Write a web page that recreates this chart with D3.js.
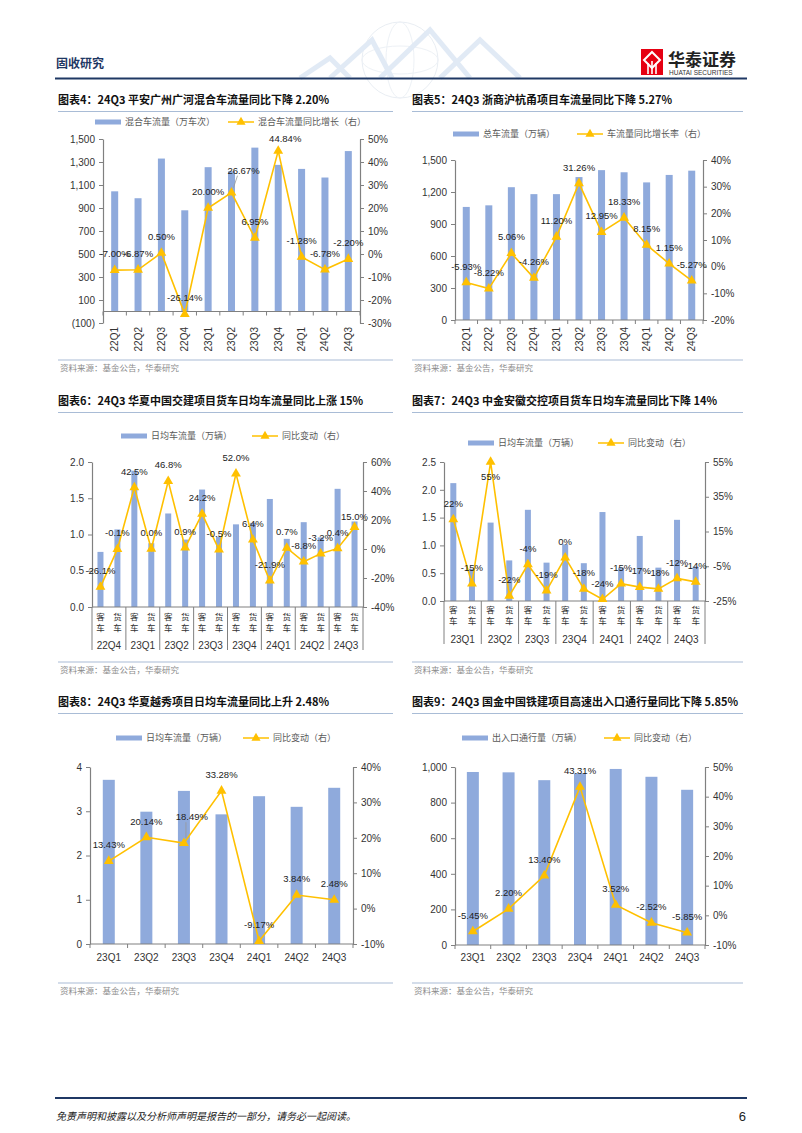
<!DOCTYPE html>
<html><head><meta charset="utf-8">
<script src="https://cdn.jsdelivr.net/npm/d3@7"></script>
<style>
body{margin:0;background:#fff}
svg{display:block;font-family:"Liberation Sans",Arial,sans-serif}
.cn{font-family:"Noto Sans CJK SC",sans-serif}
.title{font-family:"Noto Sans CJK SC",sans-serif;font-weight:700;font-size:11px;fill:#111}
.tick text{font-size:10px;fill:#333}
.lbl{font-size:9.5px;fill:#222}
.leg{font-family:"Noto Sans CJK SC",sans-serif;font-size:9px;fill:#595959}
.src{font-family:"Noto Sans CJK SC",sans-serif;font-size:8.5px;fill:#8c8c8c}
</style></head><body>
<svg id="page" width="802" height="1133"></svg>
<script>
// ---- data ----
const q11 = ["22Q1","22Q2","22Q3","22Q4","23Q1","23Q2","23Q3","23Q4","24Q1","24Q2","24Q3"];
const mixFlow = [1045, 985, 1330, 880, 1255, 1220, 1425, 1275, 1240, 1165, 1395];
const mixYoy = [-7.00, -6.87, 0.50, -26.14, 20.00, 26.67, 6.95, 44.84, -1.28, -6.78, -2.20];

const zsFlow = [1060, 1075, 1245, 1180, 1180, 1340, 1405, 1385, 1290, 1360, 1400];
const zsYoy = [-5.93, -8.22, 5.06, -4.26, 11.20, 31.26, 12.95, 18.33, 8.15, 1.15, -5.27];

const vehTypes = ["客车", "货车"];
const hxGroups = ["22Q4","23Q1","23Q2","23Q3","23Q4","24Q1","24Q2","24Q3"];
const hxFlow = [0.76, 1.07, 1.88, 0.88, 1.29, 0.93, 1.62, 0.97, 1.14, 1.16, 1.49, 0.94, 1.17, 0.96, 1.63, 1.18];
const hxYoy = [-26.1, -0.1, 42.5, 0.0, 46.8, 0.9, 24.2, -0.5, 52.0, 6.4, -21.9, 0.7, -8.8, -3.2, 0.4, 15.0];

const zjGroups = ["23Q1","23Q2","23Q3","23Q4","24Q1","24Q2","24Q3"];
const zjFlow = [2.12, 0.58, 1.41, 0.73, 1.64, 0.69, 1.02, 0.68, 1.60, 0.60, 1.17, 0.60, 1.46, 0.62];
const zjYoy = [22, -15, 55, -22, -4, -19, 0, -18, -24, -15, -17, -18, -12, -14];

const q7 = ["23Q1","23Q2","23Q3","23Q4","24Q1","24Q2","24Q3"];
const yxFlow = [3.71, 2.99, 3.46, 2.93, 3.34, 3.10, 3.53];
const yxYoy = [13.43, 20.14, 18.49, 33.28, -9.17, 3.84, 2.48];

const tjFlow = [972, 970, 926, 965, 989, 945, 872];
const tjYoy = [-5.45, 2.20, 13.40, 43.31, 3.52, -2.52, -5.85];

// ---- page ----
const svg = d3.select("#page");
const BAR = "#8faadc", LINE = "#ffc000", RULE = "#a9bcd6", NAVY = "#1f3864";

// header
const deco = svg.append("g").attr("opacity", 0.3);
deco.append("circle").attr("cx", 400).attr("cy", 60).attr("r", 38).attr("fill", "none").attr("stroke", "#b8c7d9");
deco.append("ellipse").attr("cx", 400).attr("cy", 60).attr("rx", 38).attr("ry", 14).attr("fill", "none").attr("stroke", "#c6d3e2");
deco.append("ellipse").attr("cx", 400).attr("cy", 60).attr("rx", 14).attr("ry", 38).attr("fill", "none").attr("stroke", "#c6d3e2");
[[330,78,372,40,392,78],[380,78,430,30,470,78],[440,78,480,40,520,78],[300,78,330,58,350,78]].forEach(p => {
  deco.append("path").attr("d", `M${p[0]},${p[1]}L${p[2]},${p[3]}L${p[4]},${p[5]}`)
    .attr("fill", "none").attr("stroke", "#9dbbe0").attr("stroke-width", 5);
});
svg.append("text").attr("class", "cn").attr("x", 56).attr("y", 68)
  .attr("font-size", 12).attr("font-weight", 700).attr("fill", NAVY).text("固收研究");
svg.append("line").attr("x1", 55).attr("x2", 747).attr("y1", 78.5).attr("y2", 78.5)
  .attr("stroke", NAVY).attr("stroke-width", 2);
const logo = svg.append("g").attr("transform", "translate(641,49)");
logo.append("rect").attr("width", 22).attr("height", 26).attr("fill", "#e60012");
logo.append("path").attr("d", "M11,3L19,11L11,19L3,11Z").attr("fill", "none").attr("stroke", "#fff").attr("stroke-width", 2);
logo.append("path").attr("d", "M7,14V25M11,12V25M15,14V25").attr("stroke", "#fff").attr("stroke-width", 1.6);
svg.append("text").attr("class", "cn").attr("x", 668).attr("y", 66).attr("font-size", 17)
  .attr("font-weight", 700).attr("fill", "#222").text("华泰证券");
svg.append("text").attr("x", 669).attr("y", 75).attr("font-size", 6.5).attr("fill", "#333")
  .text("HUATAI SECURITIES");

// footer
svg.append("line").attr("x1", 55).attr("x2", 747).attr("y1", 1098).attr("y2", 1098)
  .attr("stroke", NAVY).attr("stroke-width", 2);
svg.append("text").attr("class", "cn").attr("x", 56).attr("y", 1120).attr("font-size", 10)
  .attr("font-style", "italic").attr("fill", "#222")
  .text("免责声明和披露以及分析师声明是报告的一部分，请务必一起阅读。");
svg.append("text").attr("x", 746).attr("y", 1121).attr("text-anchor", "end").attr("font-size", 13)
  .attr("fill", "#222").text("6");

const pct = d => d + "%";

function drawChart(c) {
  const g = svg.append("g");
  // title + rule
  g.append("text").attr("class", "title").attr("x", c.px).attr("y", c.titleY).text(c.title);
  g.append("line").attr("x1", c.px).attr("x2", c.pw).attr("y1", c.titleY + 7.5).attr("y2", c.titleY + 7.5)
    .attr("stroke", RULE).attr("stroke-width", 1.2);
  // source
  g.append("line").attr("x1", c.px).attr("x2", c.pw).attr("y1", c.srcY).attr("y2", c.srcY)
    .attr("stroke", RULE).attr("stroke-width", 1.2);
  g.append("text").attr("class", "src").attr("x", c.px + 2).attr("y", c.srcY + 11).text("资料来源：基金公告，华泰研究");

  // legend
  const L = c.legend;
  g.append("rect").attr("x", L.bx).attr("y", L.y - 2.5).attr("width", 26).attr("height", 5).attr("fill", BAR);
  g.append("text").attr("class", "leg").attr("x", L.bx + 30).attr("y", L.y).attr("dy", "0.35em").text(c.barName);
  g.append("line").attr("x1", L.lx).attr("x2", L.lx + 26).attr("y1", L.y).attr("y2", L.y)
    .attr("stroke", LINE).attr("stroke-width", 1.5);
  g.append("path").attr("d", d3.symbol(d3.symbolTriangle, 36)()).attr("transform", `translate(${L.lx + 13},${L.y})`)
    .attr("fill", LINE);
  g.append("text").attr("class", "leg").attr("x", L.lx + 30).attr("y", L.y).attr("dy", "0.35em").text(c.lineName);

  const n = c.bars.length;
  const x = d3.scaleBand().domain(d3.range(n)).range([c.l, c.r]);
  const bw = x.bandwidth();
  const cx = i => x(i) + bw / 2;
  const yL = d3.scaleLinear().domain(c.leftDom).range([c.bottom, c.top]);
  const yR = d3.scaleLinear().domain(c.rightDom).range([c.bottom, c.top]);
  const base = yL(0);

  // bars
  g.append("g").selectAll("rect").data(c.bars).join("rect")
    .attr("x", (d, i) => cx(i) - c.barW / 2).attr("width", c.barW)
    .attr("y", d => yL(d)).attr("height", d => base - yL(d)).attr("fill", BAR);

  // axes
  const axL = g.append("g").attr("transform", `translate(${c.l},0)`)
    .call(d3.axisLeft(yL).tickValues(c.leftTicks).tickFormat(c.leftFmt).tickSize(4).tickSizeOuter(0).tickPadding(4));
  const axR = g.append("g").attr("transform", `translate(${c.r},0)`)
    .call(d3.axisRight(yR).tickValues(c.rightTicks).tickFormat(pct).tickSize(4).tickSizeOuter(0).tickPadding(4));
  [axL, axR].forEach(a => { a.selectAll("path,line").attr("stroke", "#808080"); a.select(".domain").attr("stroke-width", 1.2); });

  g.append("line").attr("x1", c.l).attr("x2", c.r).attr("y1", base).attr("y2", base)
    .attr("stroke", "#808080").attr("stroke-width", 1.2);

  if (c.groups) {
    // two-level category axis
    const gs = c.groups.length, per = n / gs;
    d3.range(gs + 1).forEach(k => {
      const xx = k === gs ? c.r : x(k * per);
      g.append("line").attr("x1", xx).attr("x2", xx).attr("y1", base).attr("y2", c.sepBottom)
        .attr("stroke", "#808080").attr("stroke-width", 1);
    });
    d3.range(n).forEach(i => {
      const name = vehTypes[i % per];
      const t = g.append("text").attr("class", "cn").attr("text-anchor", "middle")
        .attr("font-size", 8.5).attr("fill", "#333");
      t.append("tspan").attr("x", cx(i)).attr("y", c.charY).text(name[0]);
      t.append("tspan").attr("x", cx(i)).attr("dy", 11).text(name[1]);
    });
    c.groups.forEach((gname, k) => {
      g.append("text").attr("x", x(k * per) + bw * per / 2).attr("y", c.groupY).attr("dy", "0.35em")
        .attr("text-anchor", "middle").attr("font-size", 10).attr("fill", "#333").text(gname);
    });
  } else {
    // tick marks between categories
    d3.range(n + 1).forEach(k => {
      const xx = k === n ? c.r : x(k);
      g.append("line").attr("x1", xx).attr("x2", xx).attr("y1", base).attr("y2", base + 4)
        .attr("stroke", "#808080");
    });
    c.cats.forEach((name, i) => {
      const t = g.append("text").attr("font-size", 10).attr("fill", "#333").text(name);
      if (c.rotate) {
        t.attr("transform", `translate(${cx(i)},${c.xLabY}) rotate(-90)`).attr("text-anchor", "end").attr("dy", "0.35em");
      } else {
        t.attr("x", cx(i)).attr("y", c.xLabY).attr("dy", "0.35em").attr("text-anchor", "middle");
      }
    });
  }

  // line + markers
  g.append("path").datum(c.line)
    .attr("d", d3.line().x((d, i) => cx(i)).y(d => yR(d)))
    .attr("fill", "none").attr("stroke", LINE).attr("stroke-width", 1.6);
  g.append("g").selectAll("path").data(c.line).join("path")
    .attr("d", d3.symbol(d3.symbolTriangle, 42)())
    .attr("transform", (d, i) => `translate(${cx(i)},${yR(d)})`).attr("fill", LINE);

  // value labels
  c.line.forEach((v, i) => {
    const s = (c.shift && c.shift[i]) || [0, -16];
    const lx = cx(i) + s[0], ly = yR(v) + s[1];
    if (c.leader && c.leader.includes(i)) {
      g.append("line").attr("x1", cx(i) + 2).attr("y1", yR(v) - 5).attr("x2", lx - 6).attr("y2", ly + 5)
        .attr("stroke", "#999").attr("stroke-width", 0.8);
    }
    g.append("text").attr("class", "lbl").attr("x", lx).attr("y", ly).attr("dy", "0.35em")
      .attr("text-anchor", "middle").text(c.lfmt(v));
  });
}

const f2 = v => v.toFixed(2) + "%";
const f1 = v => v.toFixed(1) + "%";
const f0 = v => v.toFixed(0) + "%";
const comma = v => v < 0 ? "(" + d3.format(",")(-v) + ")" : d3.format(",")(v);

drawChart({
  title: "图表4：24Q3 平安广州广河混合车流量同比下降 2.20%",
  px: 58, pw: 393, titleY: 104, srcY: 360,
  legend: { y: 122, bx: 95, lx: 228 },
  barName: "混合车流量（万车次）", lineName: "混合车流量同比增长（右）",
  cats: q11, bars: mixFlow, line: mixYoy, rotate: true, xLabY: 327,
  l: 103, r: 360, top: 139, bottom: 323, barW: 7,
  leftDom: [-100, 1500], rightDom: [-30, 50],
  leftTicks: d3.range(-100, 1501, 200), rightTicks: d3.range(-30, 51, 10), leftFmt: comma,
  lfmt: f2, shift: { 5: [12, -22], 7: [7, -12] }, leader: [5]
});

drawChart({
  title: "图表5：24Q3 浙商沪杭甬项目车流量同比下降 5.27%",
  px: 412, pw: 743, titleY: 104, srcY: 360,
  legend: { y: 134, bx: 453, lx: 577 },
  barName: "总车流量（万辆）", lineName: "车流量同比增长率（右）",
  cats: q11, bars: zsFlow, line: zsYoy, rotate: true, xLabY: 327,
  l: 455, r: 703, top: 160, bottom: 320, barW: 7,
  leftDom: [0, 1500], rightDom: [-20, 40],
  leftTicks: d3.range(0, 1501, 300), rightTicks: d3.range(-20, 41, 10), leftFmt: d3.format(","),
  lfmt: f2
});

drawChart({
  title: "图表6：24Q3 华夏中国交建项目货车日均车流量同比上涨 15%",
  px: 58, pw: 393, titleY: 405, srcY: 662,
  legend: { y: 436, bx: 121, lx: 252 },
  barName: "日均车流量（万辆）", lineName: "同比变动（右）",
  groups: hxGroups, bars: hxFlow, line: hxYoy, charY: 620, groupY: 645, sepBottom: 650,
  l: 92, r: 363, top: 462, bottom: 607, barW: 6,
  leftDom: [0, 2], rightDom: [-40, 60],
  leftTicks: d3.range(0, 2.01, 0.5), rightTicks: d3.range(-40, 61, 20), leftFmt: d3.format(".1f"),
  lfmt: f1, shift: { 15: [0, -11] }
});

drawChart({
  title: "图表7：24Q3 中金安徽交控项目货车日均车流量同比下降 14%",
  px: 412, pw: 743, titleY: 405, srcY: 662,
  legend: { y: 443, bx: 468, lx: 598 },
  barName: "日均车流量（万辆）", lineName: "同比变动（右）",
  groups: zjGroups, bars: zjFlow, line: zjYoy, charY: 613, groupY: 639, sepBottom: 644,
  l: 444, r: 705, top: 462, bottom: 601, barW: 6,
  leftDom: [0, 2.5], rightDom: [-25, 55],
  leftTicks: d3.range(0, 2.51, 0.5), rightTicks: d3.range(-25, 56, 20), leftFmt: d3.format(".1f"),
  lfmt: f0, shift: { 2: [0, 15] }
});

drawChart({
  title: "图表8：24Q3 华夏越秀项目日均车流量同比上升 2.48%",
  px: 58, pw: 393, titleY: 706, srcY: 983,
  legend: { y: 738, bx: 116, lx: 243 },
  barName: "日均车流量（万辆）", lineName: "同比变动（右）",
  cats: q7, bars: yxFlow, line: yxYoy, rotate: false, xLabY: 957,
  l: 90, r: 353, top: 767, bottom: 944, barW: 12,
  leftDom: [0, 4], rightDom: [-10, 40],
  leftTicks: d3.range(0, 5, 1), rightTicks: d3.range(-10, 41, 10), leftFmt: d3.format("d"),
  lfmt: f2, shift: { 2: [8, -26] }, leader: [2]
});

drawChart({
  title: "图表9：24Q3 国金中国铁建项目高速出入口通行量同比下降 5.85%",
  px: 412, pw: 743, titleY: 706, srcY: 983,
  legend: { y: 738, bx: 462, lx: 604 },
  barName: "出入口通行量（万辆）", lineName: "同比变动（右）",
  cats: q7, bars: tjFlow, line: tjYoy, rotate: false, xLabY: 957,
  l: 455, r: 705, top: 767, bottom: 945, barW: 12,
  leftDom: [0, 1000], rightDom: [-10, 50],
  leftTicks: d3.range(0, 1001, 200), rightTicks: d3.range(-10, 51, 10), leftFmt: d3.format(","),
  lfmt: f2
});
</script>
</body></html>
